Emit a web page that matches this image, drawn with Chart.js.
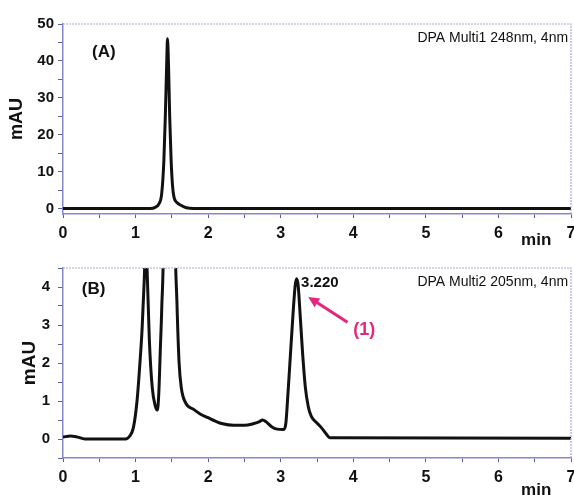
<!DOCTYPE html>
<html>
<head>
<meta charset="utf-8">
<script src="https://cdn.jsdelivr.net/npm/chart.js@4.4.0/dist/chart.umd.min.js"></script>
<style>
  body { margin: 0; background: #fff; }
  .box { position: absolute; left: 0; width: 574px; }
  #boxA { top: 0; height: 250px; }
  #boxB { top: 250px; height: 245px; }
</style>
</head>
<body>
<div class="box" id="boxA"><canvas id="chartA"></canvas></div>
<div class="box" id="boxB"><canvas id="chartB"></canvas></div>
<script>
// chromatogram (A) - DPA Multi1 248nm
const timeA   = [0, 1.2, 1.27, 1.32, 1.36, 1.39, 1.41, 1.43, 1.44, 1.455, 1.47, 1.49, 1.51, 1.53, 1.57, 1.63, 1.7, 1.8, 7];
const signalA = [0, 0, 0.3, 1.2, 4, 13, 25, 40, 46, 38, 25, 13, 6, 3, 1.6, 0.8, 0.2, 0, 0];

// chromatogram (B) - DPA Multi2 205nm
const timeB = [0, 0.1, 0.2, 0.3, 0.86, 0.92, 0.97, 1.02, 1.06, 1.09, 1.12, 1.14, 1.16, 1.19, 1.23, 1.27, 1.3,
  1.32, 1.34, 1.36, 1.39, 1.46, 1.54, 1.57, 1.6, 1.63, 1.69, 1.8, 1.89, 2.0, 2.1, 2.2, 2.35, 2.5, 2.62, 2.7,
  2.75, 2.8, 2.87, 2.95, 3.04, 3.07, 3.1, 3.13, 3.17, 3.2, 3.22, 3.24, 3.27, 3.3, 3.34, 3.38, 3.42, 3.5, 3.56,
  3.62, 3.68, 7];
const signalB = [0.05, 0.08, 0.05, 0, 0, 0.08, 0.3, 1.0, 2.0, 2.9, 4.2, 5.3, 4.4, 2.6, 1.35, 0.88, 0.76,
  1.2, 2.3, 3.4, 6.0, 30, 6.0, 3.6, 2.0, 1.35, 0.95, 0.78, 0.66, 0.56, 0.47, 0.4, 0.36, 0.36, 0.4, 0.45,
  0.5, 0.45, 0.33, 0.26, 0.25, 0.4, 1.2, 2.1, 3.3, 4.05, 4.22, 4.05, 3.2, 2.3, 1.35, 0.85, 0.6, 0.42, 0.3,
  0.15, 0.03, 0.02];

const xRange = [0, 7];
const yRangeA = [-1.5, 50];
const yRangeB = [-0.5, 4.5];
const peakLabel = "3.220";
const peakTime = 3.22;

const FONT = "'Liberation Sans', Arial, sans-serif";
const AXIS_BLUE = "#8587cc";
const TICK_BLUE = "#5a5cab";

// top / right dotted frame + text marks
const decorPlugin = {
  id: "decor",
  afterDraw(chart, args, opts) {
    const { ctx, chartArea: a, scales } = chart;
    const x = scales.x, y = scales.y;
    ctx.save();
    ctx.strokeStyle = "#aaaadb";
    ctx.lineWidth = 1.2;
    ctx.setLineDash([2, 1]);
    ctx.beginPath();
    ctx.moveTo(a.left, a.top);
    ctx.lineTo(a.right, a.top);
    ctx.lineTo(a.right, a.bottom);
    ctx.stroke();
    ctx.setLineDash([]);

    ctx.textBaseline = "middle";
    (opts.texts || []).forEach(t => {
      ctx.font = t.font;
      ctx.fillStyle = t.color || "#111";
      ctx.textAlign = t.align || "left";
      ctx.fillText(t.text, x.getPixelForValue(t.x), y.getPixelForValue(t.y));
    });

    // "min" unit below x axis
    ctx.font = "bold 17px " + FONT;
    ctx.fillStyle = "#111";
    ctx.textAlign = "center";
    ctx.fillText("min", x.getPixelForValue(6.52), a.bottom + opts.minOffset);

    if (opts.arrow) {
      const ar = opts.arrow;
      const x0 = x.getPixelForValue(ar.from[0]), y0 = y.getPixelForValue(ar.from[1]);
      const x1 = x.getPixelForValue(ar.to[0]), y1 = y.getPixelForValue(ar.to[1]);
      const ang = Math.atan2(y1 - y0, x1 - x0);
      ctx.strokeStyle = ar.color;
      ctx.fillStyle = ar.color;
      ctx.lineWidth = 3;
      ctx.beginPath();
      ctx.moveTo(x0, y0);
      ctx.lineTo(x1 - 8 * Math.cos(ang), y1 - 8 * Math.sin(ang));
      ctx.stroke();
      ctx.beginPath();
      ctx.moveTo(x1, y1);
      ctx.lineTo(x1 - 12 * Math.cos(ang - 0.45), y1 - 12 * Math.sin(ang - 0.45));
      ctx.lineTo(x1 - 12 * Math.cos(ang + 0.45), y1 - 12 * Math.sin(ang + 0.45));
      ctx.closePath();
      ctx.fill();
    }
    ctx.restore();
  }
};

function makeChart(id, times, signal, yRange, yStep, yLabelEvery, opt) {
  return new Chart(document.getElementById(id), {
    type: "line",
    data: {
      datasets: [{
        data: times.map((t, i) => ({ x: t, y: signal[i] })),
        borderColor: "#111",
        borderWidth: 3,
        pointRadius: 0,
        cubicInterpolationMode: "monotone",
        clip: 0
      }]
    },
    options: {
      responsive: true,
      maintainAspectRatio: false,
      animation: false,
      layout: { padding: { top: opt.top, right: 3, left: 0, bottom: 0 } },
      plugins: {
        legend: { display: false },
        tooltip: { enabled: false },
        decor: { texts: opt.texts, minOffset: opt.minOffset, arrow: opt.arrow }
      },
      scales: {
        x: {
          type: "linear",
          min: xRange[0],
          max: xRange[1],
          afterFit: s => { s.height = opt.xHeight; s.paddingLeft = 0; s.paddingRight = 0; },
          ticks: {
            stepSize: 0.5,
            autoSkip: false,
            maxRotation: 0,
            padding: 6,
            color: "#111",
            font: { family: FONT, size: 16, weight: "bold" },
            callback: v => Number.isInteger(v) ? String(v) : ""
          },
          grid: { drawOnChartArea: false, tickLength: 4, tickColor: TICK_BLUE },
          border: { color: AXIS_BLUE, width: 1.5, dash: [2, 1] }
        },
        y: {
          min: yRange[0],
          max: yRange[1],
          afterFit: s => { s.width = 63; s.paddingTop = 0; s.paddingBottom = 0; },
          title: {
            display: true,
            text: "mAU",
            color: "#111",
            font: { family: FONT, size: opt.titleSize, weight: "bold" },
            padding: { top: opt.titlePad, bottom: 0 }
          },
          ticks: {
            stepSize: yStep,
            autoSkip: false,
            includeBounds: false,
            padding: opt.yTickPad,
            color: "#111",
            font: { family: FONT, size: 15, weight: "bold" },
            callback: v => (Math.abs(v % yLabelEvery) < 1e-9 ? String(v) : "")
          },
          grid: { drawOnChartArea: false, tickLength: 5, tickColor: TICK_BLUE },
          border: { color: AXIS_BLUE, width: 1.5, dash: [2, 1] }
        }
      }
    },
    plugins: [decorPlugin]
  });
}

makeChart("chartA", timeA, signalA, yRangeA, 5, 10, {
  top: 24, xHeight: 36, minOffset: 26, titleSize: 18, titlePad: 6, yTickPad: 4,
  texts: [
    { text: "(A)", x: 0.40, y: 42.2, font: "bold 17px " + FONT },
    { text: "DPA Multi1 248nm, 4nm", x: 6.96, y: 46.3, align: "right", font: "14px " + FONT }
  ]
});

makeChart("chartB", timeB, signalB, yRangeB, 0.5, 1, {
  top: 18, xHeight: 37, minOffset: 32, titleSize: 19, titlePad: 18, yTickPad: 8,
  texts: [
    { text: "(B)", x: 0.26, y: 3.95, font: "bold 17px " + FONT },
    { text: peakLabel, x: peakTime + 0.06, y: 4.1, font: "bold 15px " + FONT },
    { text: "(1)", x: 4.0, y: 2.86, color: "#e6267c", font: "bold 18px " + FONT },
    { text: "DPA Multi2 205nm, 4nm", x: 6.96, y: 4.13, align: "right", font: "14px " + FONT }
  ],
  arrow: { from: [3.92, 3.07], to: [3.38, 3.74], color: "#e6267c" }
});
</script>
</body>
</html>
